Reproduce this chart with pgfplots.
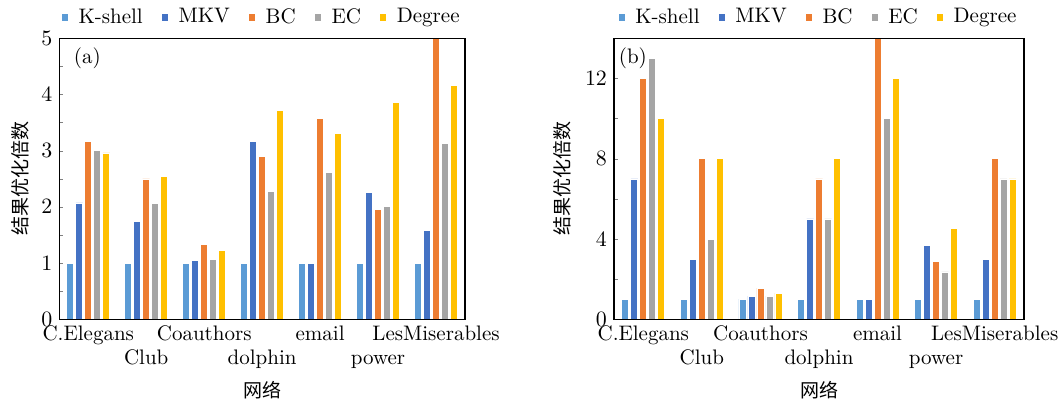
\documentclass[border=0pt]{standalone}
\usepackage{fontspec}
\newfontfamily\cjk{Noto Sans CJK SC}
\usepackage{pgfplots}
\pgfplotsset{compat=1.18}
\definecolor{cK}{HTML}{5B9BD5}
\definecolor{cM}{HTML}{4472C4}
\definecolor{cB}{HTML}{ED7D31}
\definecolor{cE}{HTML}{A5A5A5}
\definecolor{cD}{HTML}{FFC000}
\newcommand{\fs}{\fontsize{10.5}{12}\selectfont}
\pgfplotsset{mystyle/.style={
  scale only axis, height=140.5pt, axis on top,
  ybar=1pt, bar width=3.5pt,
  xmin=-0.5, xmax=6.5, ymin=0,
  xtick={0,...,6},
  xticklabels={{\strut C.Elegans},{\strut\\\strut Club},{\strut Coauthors},{\strut\\\strut dolphin},{\strut email},{\strut\\\strut power},{\strut LesMiserables}},
  x tick style={draw=none},
  x tick label style={align=center, anchor=north, inner sep=2pt, font=\fs},
  y tick label style={font=\fs},
  ytick pos=left, tick align=inside,
  major tick length=2pt, minor tick length=2pt,
  axis line style={line width=0.7pt},
  legend style={at={(0.5,1.075)}, anchor=center, draw=none, fill=none, legend columns=5, font=\fs,
    /tikz/every odd column/.append style={column sep=3pt},
    /tikz/every even column/.append style={column sep=7pt}},
  legend image code/.code={\fill[#1] (0pt,-1.8pt) rectangle (3.6pt,1.8pt);},
  xlabel={\cjk 网络},
  xlabel style={at={(axis description cs:0.5,-0.251)}, anchor=center, font=\fontsize{9.5}{11}\selectfont},
  ylabel={\cjk 结果优化倍数},
  ylabel style={rotate=0, anchor=center, font=\fontsize{9.5}{11}\selectfont},
  every axis plot/.append style={draw=white, line width=0.3pt},
}}
\begin{document}
\begin{tikzpicture}
\path[use as bounding box] (0,0) rectangle (532pt,201.5pt);
\begin{axis}[mystyle, at={(29.65pt,41.85pt)}, anchor=south west, width=202.85pt,
  ymax=5, ytick={0,1,2,3,4,5}, minor ytick={0.5,1.5,2.5,3.5,4.5},
  ylabel style={at={(axis description cs:-0.097,0.5)}}]
\addplot[fill=cK] coordinates {(0,1) (1,1) (2,1) (3,1) (4,1) (5,1) (6,1)};
\addplot[fill=cM] coordinates {(0,2.07) (1,1.74) (2,1.05) (3,3.17) (4,1.0) (5,2.26) (6,1.58)};
\addplot[fill=cB] coordinates {(0,3.17) (1,2.50) (2,1.33) (3,2.90) (4,3.58) (5,1.95) (6,5.0)};
\addplot[fill=cE] coordinates {(0,3.00) (1,2.06) (2,1.07) (3,2.28) (4,2.62) (5,2.01) (6,3.13)};
\addplot[fill=cD] coordinates {(0,2.96) (1,2.54) (2,1.23) (3,3.72) (4,3.31) (5,3.86) (6,4.16)};
\legend{K-shell,MKV,BC,EC,Degree}
\node[font=\fs] at (rel axis cs:0.069,0.929) {(a)};
\end{axis}
\begin{axis}[mystyle, at={(307pt,41.85pt)}, anchor=south west, width=205pt,
  ymax=14, ytick={0,4,8,12}, minor ytick={2,6,10},
  ylabel style={at={(axis description cs:-0.127,0.5)}}]
\addplot[fill=cK] coordinates {(0,1) (1,1) (2,1) (3,1) (4,1) (5,1) (6,1)};
\addplot[fill=cM] coordinates {(0,7) (1,3) (2,1.15) (3,5) (4,1) (5,3.68) (6,3)};
\addplot[fill=cB] coordinates {(0,12) (1,8) (2,1.55) (3,7) (4,14) (5,2.90) (6,8)};
\addplot[fill=cE] coordinates {(0,13) (1,4) (2,1.15) (3,5) (4,10) (5,2.36) (6,7)};
\addplot[fill=cD] coordinates {(0,10) (1,8) (2,1.31) (3,8) (4,12) (5,4.54) (6,7)};
\legend{K-shell,MKV,BC,EC,Degree}
\node[font=\fs] at (rel axis cs:0.046,0.929) {(b)};
\end{axis}
\end{tikzpicture}
\end{document}
